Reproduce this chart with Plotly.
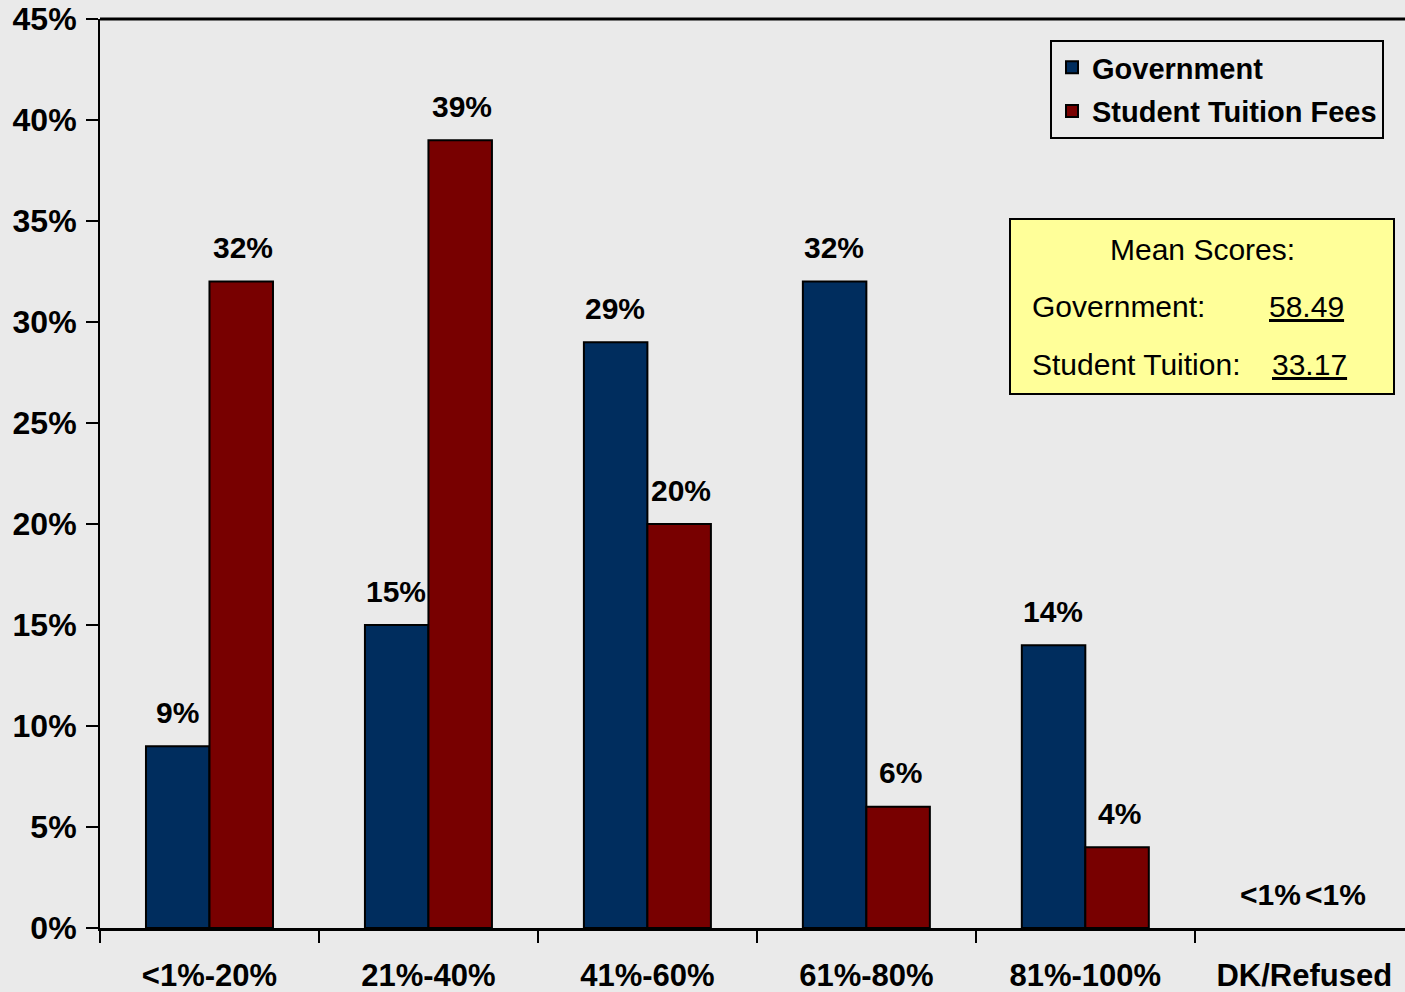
import plotly.graph_objects as go

categories = ["<1%-20%", "21%-40%", "41%-60%", "61%-80%", "81%-100%", "DK/Refused"]
government = [9, 15, 29, 32, 14, 0]
tuition = [32, 39, 20, 6, 4, 0]
gov_labels = ["9%", "15%", "29%", "32%", "14%", "<1%"]
tui_labels = ["32%", "39%", "20%", "6%", "4%", "<1%"]
y_ticks = [0, 5, 10, 15, 20, 25, 30, 35, 40, 45]
y_tick_text = [f"{v}%" for v in y_ticks]
mean_gov = "58.49"
mean_tui = "33.17"

BG = "#EAEAEA"
FONT = "Liberation Sans, Arial, sans-serif"

W, H = 1405, 992
L, R, T, B = 100, 0, 19, 64
pw, ph = W - L - R, H - T - B
def px(x):
    return (x - L) / pw
def py(y):
    return (H - B - y) / ph

def line_widths(vals):
    return [2 if v > 0 else 0 for v in vals]

fig = go.Figure()
fig.add_trace(go.Bar(
    name="Government", x=categories, y=government, legendgroup="g",
    marker=dict(color="#002D5E", line=dict(color="black", width=line_widths(government))),
))
fig.add_trace(go.Bar(
    name="Student Tuition Fees", x=categories, y=tuition, legendgroup="t",
    marker=dict(color="#780000", line=dict(color="black", width=line_widths(tuition))),
))

annotations = []
lab_font = dict(family=FONT, size=30, color="black")
for cat, v, lab in zip(categories, government, gov_labels):
    annotations.append(dict(x=cat, y=v, text=f"<b>{lab}</b>", showarrow=False,
                            xref="x", yref="y", xshift=-32 if v > 0 else -34, yshift=34,
                            yanchor="middle", font=lab_font))
for cat, v, lab in zip(categories, tuition, tui_labels):
    annotations.append(dict(x=cat, y=v, text=f"<b>{lab}</b>", showarrow=False,
                            xref="x", yref="y", xshift=34 if v > 0 else 31, yshift=34,
                            yanchor="middle", font=lab_font))

# Mean scores box
box_font = dict(family=FONT, size=30, color="black")
box_items = [
    (1202, 249, "Mean Scores:", "center"),
    (1030, 306, "Government:", "left"),
    (1346, 306, f"<u>{mean_gov}</u>", "right"),
    (1030, 364, "Student Tuition:", "left"),
    (1349, 364, f"<u>{mean_tui}</u>", "right"),
]
for x, y, t, anc in box_items:
    annotations.append(dict(x=px(x), y=py(y), text=t, xref="paper", yref="paper",
                            showarrow=False, xanchor=anc, yanchor="middle", font=box_font))

fig.add_shape(type="rect", xref="paper", yref="paper",
              x0=px(1010), x1=px(1394), y0=py(394), y1=py(219),
              fillcolor="#FFFF99", line=dict(color="black", width=2), layer="above")

fig.update_layout(
    width=W, height=H,
    margin=dict(l=L, r=R, t=T, b=B, pad=0),
    paper_bgcolor=BG, plot_bgcolor=BG,
    barmode="group", bargap=0.42, bargroupgap=0,
    font=dict(family=FONT, color="black"),
    annotations=annotations,
    legend=dict(
        x=px(1050), y=py(40), xanchor="left", yanchor="top",
        bgcolor=BG, bordercolor="black", borderwidth=2,
        font=dict(family=FONT, size=29, color="black", weight="bold"),
        itemwidth=30, tracegroupgap=3, traceorder="grouped",
    ),
    showlegend=True,
)
fig.update_xaxes(
    range=[-0.5, 5.46], showline=True, linecolor="black", linewidth=3,
    ticks="outside", tickson="boundaries", ticklen=12, tickwidth=2, tickcolor="black",
    tickfont=dict(family=FONT, size=31, color="black", weight="bold"),
    ticklabelstandoff=18,
    showgrid=False, zeroline=False, fixedrange=True,
)
fig.update_yaxes(
    range=[0, 45], showline=True, linecolor="black", linewidth=2, mirror=False,
    tickvals=y_ticks, ticktext=y_tick_text,
    ticks="outside", ticklen=12, tickwidth=2, tickcolor="black",
    tickfont=dict(family=FONT, size=32, color="black", weight="bold"),
    ticklabelstandoff=3,
    showgrid=False, zeroline=False, fixedrange=True,
)
# top border line
fig.add_shape(type="line", xref="paper", yref="paper", x0=0, x1=1, y0=1, y1=1,
              line=dict(color="black", width=3))

fig.write_html(
    "out.html",
    config={"displayModeBar": False},
    post_script="document.body.style.margin='0';document.body.style.background='#EAEAEA';document.body.style.overflow='hidden';",
)
